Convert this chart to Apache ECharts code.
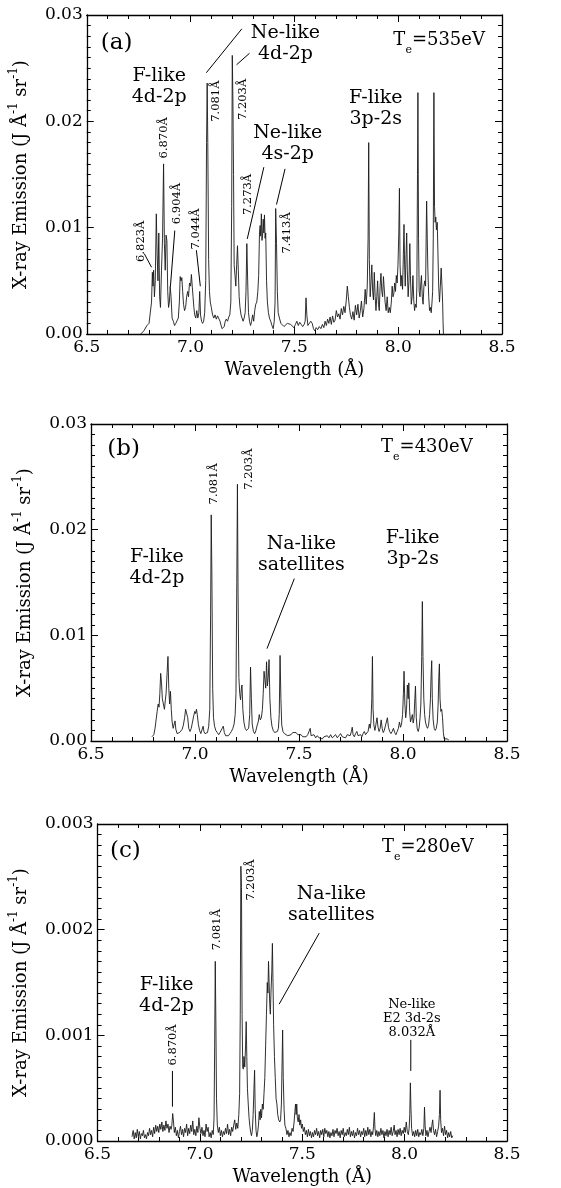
<!DOCTYPE html>
<html><head><meta charset="utf-8">
<script src="https://cdn.jsdelivr.net/npm/echarts@6/dist/echarts.min.js"></script>
<style>html,body{margin:0;padding:0;background:#fff;}#c{width:561px;height:1188px;}</style>
</head><body><div id="c"></div>
<script>
// ---- data: [wavelength (Å), emission (J Å^-1 sr^-1)] ----
const specA = [
[6.760,0],[6.775,0.0003],[6.790,0.0008],[6.800,0.001],[6.808,0.0011],[6.812,0.003],[6.816,0.0058],[6.819,0.0045],[6.822,0.006],[6.826,0.0035],[6.830,0.005],[6.835,0.0113],[6.839,0.0075],[6.843,0.005],[6.847,0.0095],[6.851,0.0035],[6.855,0.0025],[6.860,0.006],[6.865,0.009],[6.870,0.016],[6.874,0.0085],[6.878,0.006],[6.882,0.0093],[6.886,0.0088],[6.890,0.004],[6.894,0.0025],[6.898,0.003],[6.902,0.0045],[6.906,0.0035],[6.911,0.0015],[6.917,0.0012],[6.923,0.0008],[6.929,0.001],[6.935,0.0009],[6.941,0.0015],[6.946,0.003],[6.950,0.0054],[6.954,0.005],[6.958,0.0053],[6.962,0.004],[6.966,0.0028],[6.971,0.0022],[6.976,0.0025],[6.981,0.0035],[6.986,0.004],[6.990,0.0035],[6.995,0.0048],[7.000,0.0045],[7.004,0.0056],[7.008,0.0045],[7.012,0.0035],[7.016,0.0025],[7.020,0.0018],[7.025,0.0015],[7.030,0.0022],[7.035,0.0015],[7.040,0.002],[7.044,0.004],[7.048,0.0018],[7.053,0.0012],[7.058,0.001],[7.063,0.0012],[7.068,0.002],[7.073,0.005],[7.077,0.018],[7.080,0.0236],[7.083,0.018],[7.087,0.007],[7.091,0.004],[7.095,0.003],[7.100,0.0025],[7.106,0.0018],[7.112,0.0015],[7.118,0.0018],[7.124,0.0014],[7.130,0.0017],[7.136,0.0016],[7.142,0.0012],[7.147,0.0008],[7.152,0.0005],[7.157,0.0004],[7.162,0.0007],[7.167,0.0012],[7.172,0.0014],[7.178,0.0012],[7.184,0.0016],[7.189,0.0018],[7.194,0.003],[7.198,0.012],[7.201,0.0262],[7.204,0.022],[7.207,0.015],[7.210,0.0065],[7.214,0.0055],[7.218,0.0045],[7.222,0.0065],[7.226,0.0083],[7.230,0.006],[7.234,0.0035],[7.238,0.0025],[7.243,0.0018],[7.248,0.0015],[7.253,0.0012],[7.258,0.0015],[7.263,0.002],[7.267,0.004],[7.271,0.0085],[7.275,0.005],[7.279,0.002],[7.284,0.0012],[7.289,0.0008],[7.294,0.0012],[7.299,0.0018],[7.304,0.0012],[7.309,0.0022],[7.314,0.0028],[7.319,0.003],[7.324,0.004],[7.328,0.0055],[7.332,0.0095],[7.335,0.0102],[7.338,0.0092],[7.341,0.0113],[7.344,0.0088],[7.347,0.0093],[7.350,0.0108],[7.353,0.0095],[7.356,0.0112],[7.359,0.009],[7.362,0.0095],[7.366,0.005],[7.370,0.003],[7.375,0.002],[7.380,0.0015],[7.386,0.0012],[7.392,0.0008],[7.398,0.0005],[7.403,0.0012],[7.407,0.003],[7.410,0.0118],[7.414,0.0085],[7.418,0.004],[7.422,0.002],[7.428,0.0015],[7.435,0.001],[7.442,0.0009],[7.450,0.0007],[7.458,0.0008],[7.466,0.001],[7.474,0.0011],[7.482,0.0009],[7.490,0.001],[7.498,0.0006],[7.505,0.0009],[7.512,0.0012],[7.519,0.0008],[7.526,0.0011],[7.533,0.0009],[7.540,0.0007],[7.547,0.0009],[7.552,0.0012],[7.556,0.0034],[7.560,0.0018],[7.565,0.0008],[7.572,0.0007],[7.579,0.0012],[7.586,0.001],[7.592,0.0005],[7.598,0.0003],[7.605,0.0006],[7.612,0.0004],[7.620,0.0007],[7.628,0.0005],[7.635,0.0009],[7.642,0.0006],[7.648,0.0012],[7.654,0.0008],[7.660,0.0014],[7.666,0.001],[7.672,0.0016],[7.678,0.0009],[7.684,0.0017],[7.690,0.0011],[7.696,0.0013],[7.702,0.0022],[7.708,0.0016],[7.714,0.0019],[7.720,0.0014],[7.726,0.0024],[7.732,0.0018],[7.738,0.0026],[7.744,0.002],[7.750,0.0032],[7.755,0.0045],[7.760,0.0035],[7.765,0.0025],[7.770,0.0018],[7.776,0.0014],[7.782,0.0021],[7.788,0.0013],[7.794,0.0027],[7.800,0.0018],[7.806,0.0028],[7.812,0.0015],[7.818,0.0022],[7.823,0.0031],[7.829,0.0016],[7.835,0.0024],[7.841,0.0042],[7.846,0.0028],[7.851,0.0045],[7.855,0.009],[7.858,0.018],[7.861,0.007],[7.865,0.0035],[7.869,0.0048],[7.873,0.0065],[7.877,0.004],[7.881,0.0032],[7.885,0.0058],[7.889,0.0035],[7.893,0.0022],[7.897,0.0035],[7.901,0.005],[7.905,0.0028],[7.909,0.0022],[7.913,0.0045],[7.917,0.0057],[7.921,0.004],[7.925,0.0035],[7.929,0.0054],[7.933,0.0055],[7.937,0.003],[7.942,0.0022],[7.947,0.0035],[7.952,0.002],[7.957,0.0025],[7.962,0.002],[7.967,0.003],[7.971,0.0045],[7.975,0.0035],[7.979,0.0038],[7.983,0.0048],[7.987,0.004],[7.991,0.0055],[7.995,0.0048],[7.999,0.0065],[8.003,0.0095],[8.006,0.0137],[8.009,0.0065],[8.013,0.0045],[8.017,0.0055],[8.021,0.0042],[8.025,0.0075],[8.028,0.0103],[8.031,0.0065],[8.034,0.0045],[8.038,0.0075],[8.041,0.0095],[8.044,0.006],[8.048,0.0035],[8.052,0.005],[8.056,0.0085],[8.059,0.0055],[8.063,0.0028],[8.067,0.0035],[8.071,0.0055],[8.075,0.0032],[8.079,0.0022],[8.083,0.0028],[8.087,0.0025],[8.090,0.0045],[8.093,0.015],[8.095,0.0227],[8.098,0.009],[8.101,0.004],[8.105,0.0035],[8.109,0.0048],[8.112,0.0055],[8.116,0.0035],[8.120,0.0028],[8.124,0.0045],[8.128,0.005],[8.132,0.0045],[8.135,0.0095],[8.137,0.0125],[8.140,0.009],[8.143,0.006],[8.147,0.0035],[8.151,0.0022],[8.155,0.0025],[8.159,0.002],[8.163,0.003],[8.166,0.004],[8.169,0.009],[8.172,0.0227],[8.175,0.012],[8.178,0.0105],[8.181,0.011],[8.184,0.0098],[8.188,0.0105],[8.191,0.008],[8.195,0.0045],[8.199,0.003],[8.203,0.0045],[8.207,0.0062],[8.211,0.0045],[8.214,0.003],[8.216,0.0012],[8.218,0]
];
const specB = [
[6.793,0.0004],[6.797,0.0003],[6.802,0.0006],[6.808,0.0012],[6.813,0.002],[6.818,0.0028],[6.823,0.0035],[6.827,0.0032],[6.831,0.0045],[6.835,0.0064],[6.839,0.0055],[6.843,0.004],[6.848,0.0035],[6.853,0.003],[6.857,0.0038],[6.861,0.0045],[6.866,0.0065],[6.870,0.008],[6.874,0.005],[6.878,0.0035],[6.882,0.0047],[6.886,0.003],[6.890,0.0018],[6.895,0.0012],[6.900,0.0016],[6.904,0.0019],[6.908,0.0011],[6.914,0.0007],[6.920,0.0006],[6.926,0.0008],[6.932,0.0007],[6.938,0.0011],[6.944,0.0015],[6.950,0.0022],[6.955,0.003],[6.960,0.003],[6.965,0.0022],[6.970,0.0012],[6.976,0.0009],[6.982,0.0012],[6.988,0.0018],[6.994,0.0024],[6.999,0.0028],[7.003,0.0026],[7.007,0.003],[7.011,0.0025],[7.016,0.0016],[7.022,0.001],[7.028,0.0007],[7.034,0.0008],[7.039,0.0014],[7.043,0.0009],[7.048,0.0007],[7.054,0.0006],[7.060,0.0008],[7.066,0.0014],[7.071,0.003],[7.075,0.012],[7.078,0.0214],[7.081,0.016],[7.085,0.005],[7.089,0.0022],[7.094,0.0014],[7.100,0.001],[7.107,0.0008],[7.114,0.0006],[7.120,0.0008],[7.126,0.0009],[7.131,0.0012],[7.136,0.0014],[7.141,0.0008],[7.147,0.0005],[7.154,0.0006],[7.161,0.0005],[7.168,0.0007],[7.175,0.0009],[7.182,0.0012],[7.188,0.0016],[7.193,0.0025],[7.197,0.0045],[7.201,0.015],[7.204,0.0243],[7.207,0.014],[7.211,0.006],[7.215,0.0045],[7.219,0.0039],[7.223,0.005],[7.226,0.0053],[7.230,0.003],[7.235,0.0018],[7.241,0.0012],[7.247,0.001],[7.253,0.0009],[7.258,0.0012],[7.263,0.0025],[7.267,0.007],[7.271,0.004],[7.275,0.0016],[7.281,0.0009],[7.287,0.0007],[7.293,0.001],[7.299,0.0015],[7.304,0.0018],[7.309,0.0025],[7.314,0.002],[7.319,0.0022],[7.324,0.003],[7.328,0.0045],[7.332,0.0066],[7.336,0.0058],[7.340,0.005],[7.344,0.0075],[7.348,0.0052],[7.352,0.006],[7.356,0.0077],[7.360,0.004],[7.365,0.0022],[7.370,0.0014],[7.376,0.001],[7.383,0.0008],[7.390,0.0007],[7.396,0.0009],[7.401,0.0012],[7.405,0.0025],[7.409,0.0081],[7.413,0.004],[7.417,0.0015],[7.423,0.0009],[7.430,0.0007],[7.438,0.0006],[7.446,0.0005],[7.454,0.0004],[7.462,0.0006],[7.470,0.0008],[7.478,0.0007],[7.486,0.0008],[7.494,0.0006],[7.502,0.0005],[7.510,0.0006],[7.518,0.0004],[7.526,0.0005],[7.534,0.0004],[7.542,0.0006],[7.549,0.0005],[7.554,0.0012],[7.558,0.0005],[7.565,0.0004],[7.572,0.0006],[7.580,0.0003],[7.588,0.0005],[7.596,0.0003],[7.604,0.0004],[7.612,0.0002],[7.620,0.0004],[7.628,0.0003],[7.636,0.0005],[7.644,0.0003],[7.652,0.0006],[7.660,0.0003],[7.668,0.0004],[7.676,0.0006],[7.684,0.0003],[7.692,0.0005],[7.700,0.0007],[7.708,0.0004],[7.716,0.0005],[7.724,0.0003],[7.732,0.0006],[7.740,0.0007],[7.746,0.0005],[7.752,0.0009],[7.756,0.0013],[7.760,0.0006],[7.766,0.0004],[7.772,0.0007],[7.778,0.0009],[7.784,0.0005],[7.790,0.0004],[7.796,0.0006],[7.802,0.0004],[7.808,0.0007],[7.814,0.0009],[7.820,0.0006],[7.826,0.0005],[7.832,0.0009],[7.838,0.0016],[7.842,0.0012],[7.846,0.0018],[7.850,0.004],[7.853,0.008],[7.856,0.003],[7.860,0.0015],[7.865,0.001],[7.870,0.0016],[7.875,0.0022],[7.880,0.0013],[7.885,0.0009],[7.890,0.0012],[7.895,0.002],[7.900,0.0012],[7.905,0.0008],[7.910,0.001],[7.915,0.0014],[7.920,0.0018],[7.925,0.0022],[7.930,0.0013],[7.936,0.0009],[7.942,0.0007],[7.948,0.0009],[7.954,0.0012],[7.960,0.0008],[7.966,0.0006],[7.972,0.0009],[7.978,0.0012],[7.983,0.0018],[7.988,0.0013],[7.993,0.0016],[7.998,0.0025],[8.002,0.0045],[8.005,0.0066],[8.009,0.0035],[8.013,0.0022],[8.017,0.003],[8.021,0.0053],[8.025,0.004],[8.028,0.0055],[8.032,0.0028],[8.036,0.0018],[8.041,0.0022],[8.045,0.0025],[8.049,0.0017],[8.053,0.0022],[8.057,0.004],[8.060,0.0052],[8.064,0.0022],[8.068,0.0012],[8.073,0.0009],[8.078,0.0013],[8.082,0.0022],[8.086,0.0035],[8.090,0.008],[8.093,0.0132],[8.096,0.008],[8.100,0.004],[8.104,0.0025],[8.108,0.0018],[8.113,0.0014],[8.118,0.0012],[8.123,0.0015],[8.128,0.0025],[8.132,0.004],[8.135,0.0062],[8.138,0.0076],[8.141,0.004],[8.145,0.002],[8.150,0.0012],[8.155,0.001],[8.160,0.0012],[8.165,0.0018],[8.169,0.0035],[8.172,0.006],[8.175,0.0073],[8.178,0.004],[8.182,0.0028],[8.186,0.003],[8.190,0.0022],[8.194,0.0008],[8.198,0.0002],[8.205,0.0001],[8.212,0.0002],[8.220,0.0001]
];
const specC = [
[6.668,0.00004],[6.674,0.0001],[6.679,0.00002],[6.684,0.00008],[6.689,0.00003],[6.694,0.00011],[6.699,0.00004],[6.704,0.00009],[6.709,0.00002],[6.714,0.00007],[6.719,0.00005],[6.724,0.0001],[6.729,0.00003],[6.734,0.00006],[6.739,0.00002],[6.744,0.00008],[6.749,0.00005],[6.754,0.00012],[6.759,0.00006],[6.764,0.0001],[6.769,0.00004],[6.774,0.00013],[6.779,0.00007],[6.784,0.00015],[6.789,0.00009],[6.794,0.00014],[6.799,0.00008],[6.804,0.00016],[6.809,0.00011],[6.814,0.00018],[6.819,0.00009],[6.824,0.00015],[6.829,0.0001],[6.834,0.00019],[6.839,0.00012],[6.844,0.00016],[6.849,0.00008],[6.854,0.00014],[6.859,0.00011],[6.863,0.00015],[6.867,0.00026],[6.871,0.00018],[6.875,0.00008],[6.880,0.00013],[6.885,0.00005],[6.890,0.0001],[6.895,0.00003],[6.900,0.00009],[6.905,0.00014],[6.910,0.00006],[6.915,0.00011],[6.920,0.00004],[6.925,0.00012],[6.930,0.00008],[6.935,0.00016],[6.940,0.00005],[6.945,0.00012],[6.950,0.00007],[6.955,0.00015],[6.960,0.00009],[6.965,0.00019],[6.970,0.00006],[6.975,0.00011],[6.980,0.00005],[6.985,0.00014],[6.990,0.00008],[6.995,0.00022],[7.000,0.00012],[7.005,0.00007],[7.010,0.00013],[7.015,0.00005],[7.020,0.0001],[7.025,0.00004],[7.030,0.00016],[7.035,0.00009],[7.040,0.00013],[7.045,0.00004],[7.050,0.00008],[7.055,0.00003],[7.060,0.0001],[7.065,0.00006],[7.069,0.00022],[7.072,0.0009],[7.075,0.0017],[7.078,0.0011],[7.081,0.0004],[7.085,0.00015],[7.090,0.00008],[7.095,0.00013],[7.100,0.00005],[7.105,0.0001],[7.110,0.00004],[7.115,0.00009],[7.120,0.00006],[7.125,0.00012],[7.130,0.00007],[7.135,0.00016],[7.140,0.00006],[7.145,0.00011],[7.150,0.00005],[7.155,0.00013],[7.160,0.00009],[7.165,0.00015],[7.170,0.0002],[7.175,0.00011],[7.180,0.00017],[7.185,0.00012],[7.190,0.00025],[7.194,0.00045],[7.197,0.0012],[7.200,0.0026],[7.203,0.0024],[7.206,0.0012],[7.209,0.0007],[7.212,0.00068],[7.215,0.0008],[7.219,0.0007],[7.223,0.0009],[7.226,0.00113],[7.229,0.0008],[7.232,0.0005],[7.236,0.00035],[7.240,0.00022],[7.244,0.00014],[7.248,0.00008],[7.252,0.00005],[7.256,0.0001],[7.260,0.00025],[7.264,0.0005],[7.267,0.00067],[7.270,0.0003],[7.274,0.0001],[7.278,0.00004],[7.282,0.00008],[7.286,0.00015],[7.290,0.00028],[7.294,0.0002],[7.297,0.0003],[7.301,0.00022],[7.305,0.00035],[7.309,0.0003],[7.313,0.00045],[7.317,0.0006],[7.321,0.0009],[7.325,0.0012],[7.329,0.0015],[7.332,0.0014],[7.335,0.0017],[7.338,0.0015],[7.341,0.0013],[7.344,0.0012],[7.347,0.0014],[7.351,0.0016],[7.354,0.00187],[7.357,0.0015],[7.360,0.0011],[7.364,0.0008],[7.368,0.0006],[7.372,0.0004],[7.376,0.00035],[7.380,0.00025],[7.385,0.0002],[7.390,0.00018],[7.394,0.0002],[7.398,0.00035],[7.401,0.0007],[7.404,0.00105],[7.407,0.0006],[7.411,0.0003],[7.415,0.00015],[7.420,0.00012],[7.425,0.00006],[7.430,0.0001],[7.435,0.00004],[7.440,0.00008],[7.445,0.00005],[7.450,0.00012],[7.455,0.00009],[7.460,0.00018],[7.464,0.00028],[7.467,0.00035],[7.470,0.00025],[7.473,0.00035],[7.476,0.00022],[7.480,0.00018],[7.484,0.00025],[7.488,0.00015],[7.492,0.0002],[7.496,0.00012],[7.500,0.00016],[7.505,0.00009],[7.510,0.00013],[7.515,0.00006],[7.520,0.0001],[7.525,0.00004],[7.530,0.00011],[7.535,0.00005],[7.540,0.00009],[7.545,0.00003],[7.550,0.00008],[7.555,0.00004],[7.560,0.0001],[7.565,0.00006],[7.570,0.00012],[7.575,0.00005],[7.580,0.00009],[7.585,0.00003],[7.590,0.0001],[7.595,0.00006],[7.600,0.00011],[7.605,0.00004],[7.610,0.00012],[7.615,0.00007],[7.620,0.0001],[7.625,0.00004],[7.630,0.00009],[7.635,0.00003],[7.640,0.00008],[7.645,0.00005],[7.650,0.00011],[7.655,0.00004],[7.660,0.0001],[7.665,0.00007],[7.670,0.00012],[7.675,0.00005],[7.680,0.00009],[7.685,0.00003],[7.690,0.0001],[7.695,0.00006],[7.700,0.00012],[7.705,0.00004],[7.710,0.00008],[7.715,0.00005],[7.720,0.00011],[7.725,0.00006],[7.730,0.00013],[7.735,0.00004],[7.740,0.00009],[7.745,0.00005],[7.750,0.0001],[7.755,0.00003],[7.760,0.00008],[7.765,0.00005],[7.770,0.00012],[7.775,0.00006],[7.780,0.0001],[7.785,0.00004],[7.790,0.00009],[7.795,0.00006],[7.800,0.00012],[7.805,0.00004],[7.810,0.0001],[7.815,0.00005],[7.820,0.00013],[7.825,0.00006],[7.830,0.00011],[7.835,0.00004],[7.840,0.00009],[7.844,0.00006],[7.848,0.00014],[7.852,0.00027],[7.855,0.00012],[7.859,0.00005],[7.864,0.0001],[7.869,0.00004],[7.874,0.00009],[7.879,0.00005],[7.884,0.00012],[7.889,0.00006],[7.894,0.0001],[7.899,0.00003],[7.904,0.00009],[7.909,0.00005],[7.914,0.00011],[7.919,0.00004],[7.924,0.0001],[7.929,0.00006],[7.934,0.00013],[7.939,0.00005],[7.944,0.00009],[7.949,0.00015],[7.953,0.00006],[7.958,0.0001],[7.963,0.00004],[7.968,0.00011],[7.973,0.00006],[7.978,0.00012],[7.983,0.00005],[7.988,0.0001],[7.993,0.00007],[7.998,0.00013],[8.003,0.00008],[8.008,0.00018],[8.013,0.00009],[8.018,0.00006],[8.022,0.00012],[8.025,0.00025],[8.028,0.00055],[8.031,0.0003],[8.034,0.00012],[8.039,0.00005],[8.044,0.00009],[8.049,0.00004],[8.054,0.0001],[8.059,0.00005],[8.064,0.00011],[8.069,0.00004],[8.074,0.00008],[8.079,0.00006],[8.084,0.00011],[8.089,0.00005],[8.094,0.00012],[8.097,0.00032],[8.100,0.00015],[8.104,0.00005],[8.109,0.0001],[8.114,0.00004],[8.119,0.00009],[8.124,0.00013],[8.129,0.00008],[8.134,0.00016],[8.137,0.0002],[8.141,0.0001],[8.146,0.00006],[8.151,0.00011],[8.156,0.00004],[8.161,0.00009],[8.166,0.00014],[8.170,0.00025],[8.173,0.00048],[8.176,0.0002],[8.180,0.00008],[8.185,0.00012],[8.190,0.00005],[8.195,0.00014],[8.200,0.00006],[8.205,0.0001],[8.210,0.00003],[8.215,0.00008],[8.220,0.00004],[8.225,0.00009],[8.230,0.00003],[8.235,0.00005]
];
const xRange = [6.5, 8.5];          // wavelength axis
const yMaxes = [0.03, 0.03, 0.003]; // emission axis maxima
const yDecimals = [2, 2, 3];

// ---- annotations (data coordinates) ----
const annText = [
 [ // (a)
  {t:'{b|(a)}', at:[6.644,0.0274], big:true},
  {t:'{b|T}{s|e}{b|=535eV}', at:[8.418,0.0273], te:true},
  {t:'F-like\n4d-2p', at:[6.849,0.0233]},
  {t:'Ne-like\n4d-2p', at:[7.457,0.0273]},
  {t:'Ne-like\n4s-2p', at:[7.468,0.01795]},
  {t:'F-like\n3p-2s', at:[7.892,0.0212]},
  {t:'6.823Å', at:[6.761,0.00872], rot:true},
  {t:'6.870Å', at:[6.871,0.01845], rot:true},
  {t:'6.904Å', at:[6.937,0.01227], rot:true},
  {t:'7.044Å', at:[7.028,0.00988], rot:true},
  {t:'7.081Å', at:[7.124,0.0219], rot:true},
  {t:'7.203Å', at:[7.252,0.02206], rot:true},
  {t:'7.273Å', at:[7.276,0.01312], rot:true},
  {t:'7.413Å', at:[7.463,0.00951], rot:true}
 ],
 [ // (b)
  {t:'{b|(b)}', at:[6.657,0.02767], big:true},
  {t:'{b|T}{s|e}{b|=430eV}', at:[8.335,0.0275], te:true},
  {t:'7.081Å', at:[7.0897,0.02434], rot:true},
  {t:'7.203Å', at:[7.258,0.02573], rot:true},
  {t:'F-like\n4d-2p', at:[6.817,0.01644]},
  {t:'Na-like\nsatellites', at:[7.511,0.01764]},
  {t:'F-like\n3p-2s', at:[8.0465,0.01822]}
 ],
 [ // (c)
  {t:'{b|(c)}', at:[6.636,0.00274], big:true},
  {t:'{b|T}{s|e}{b|=280eV}', at:[8.337,0.00275], te:true},
  {t:'7.081Å', at:[7.0854,0.0020], rot:true},
  {t:'7.203Å', at:[7.249,0.00247], rot:true},
  {t:'F-like\n4d-2p', at:[6.837,0.001377]},
  {t:'6.870Å', at:[6.8705,0.000909], rot:true},
  {t:'Na-like\nsatellites', at:[7.642,0.002242]},
  {t:'Ne-like\nE2 3d-2s\n8.032Å', at:[8.035,0.001159], small:true}
 ]
];
const annLines = [
 [[[7.076,0.02457],[7.247,0.0287]], [[7.2216,0.02532],[7.284,0.0264]],
  [[7.273,0.00894],[7.353,0.01569]], [[7.414,0.01218],[7.455,0.01553]],
  [[6.777,0.00756],[6.812,0.00628]], [[6.924,0.00973],[6.903,0.00449]],
  [[7.028,0.00788],[7.047,0.00449]]],
 [[[7.4776,0.01537],[7.346,0.00874]]],
 [[[6.8657,0.000663],[6.8657,0.000325]], [[7.5826,0.001967],[7.387,0.001295]],
  [[8.030,0.000957],[8.030,0.000663]]]
];

const FONT = 'DejaVu Serif';
const grids = [
  {left:86, top:15, width:416, height:319},
  {left:91, top:424, width:416, height:317},
  {left:92, top:824, width:415, height:317}
];
const chart = echarts.init(document.getElementById('c'), null, {renderer:'canvas'});

const axisLineStyle = {color:'#000', width:1.3};
function xAxisDef(i, top) {
  return {
    type:'value', gridIndex:i, position: top ? 'top' : 'bottom',
    min:xRange[0], max:xRange[1], interval:0.5,
    axisLine:{show:true, onZero:false, lineStyle:axisLineStyle},
    axisTick:{show:true, inside:true, length:7, lineStyle:{color:'#000', width:1}},
    minorTick:{show:true, splitNumber:5, length:4, lineStyle:{color:'#000', width:1}},
    splitLine:{show:false}, minorSplitLine:{show:false},
    axisLabel:{show:!top, color:'#000', fontFamily:FONT, fontSize:17, margin:5,
      hideOverlap:false, showMinLabel:true, showMaxLabel:true,
      formatter:v=>v.toFixed(1)},
    name: top ? '' : 'Wavelength (Å)', nameLocation:'middle', nameGap:27,
    nameTextStyle:{color:'#000', fontFamily:FONT, fontSize:18}
  };
}
function yAxisDef(i, right) {
  return {
    type:'value', gridIndex:i, position: right ? 'right' : 'left',
    min:0, max:yMaxes[i], interval:yMaxes[i]/3,
    axisLine:{show:true, onZero:false, lineStyle:axisLineStyle},
    axisTick:{show:true, inside:true, length:7, lineStyle:{color:'#000', width:1}},
    minorTick:{show:true, splitNumber:10, length:4, lineStyle:{color:'#000', width:1}},
    splitLine:{show:false}, minorSplitLine:{show:false},
    axisLabel:{show:!right, color:'#000', fontFamily:FONT, fontSize:17, margin:4,
      hideOverlap:false, showMinLabel:true, showMaxLabel:true,
      formatter:v=>v.toFixed(yDecimals[i])},
    name: right ? '' : 'X-ray Emission (J Å{s|-1} sr{s|-1})',
    nameLocation:'middle', nameGap:48, nameRotate:90,
    nameTextStyle:{color:'#000', fontFamily:FONT, fontSize:18, lineHeight:26,
      rich:{s:{fontFamily:FONT, fontSize:12, color:'#000', verticalAlign:'top', lineHeight:14}}}
  };
}
const specs = [specA, specB, specC];
const option = {
  backgroundColor:'#fff', animation:false,
  grid: grids.map(g => Object.assign({containLabel:false}, g)),
  xAxis: [0,1,2].map(i=>xAxisDef(i,false)).concat([0,1,2].map(i=>xAxisDef(i,true))),
  yAxis: [0,1,2].map(i=>yAxisDef(i,false)).concat([0,1,2].map(i=>yAxisDef(i,true))),
  series: specs.map((d,i)=>({
    type:'line', xAxisIndex:i, yAxisIndex:i, data:d, showSymbol:false, symbol:'none',
    lineStyle:{color:'#1a1a1a', width:0.9}, silent:true, clip:true
  }))
};
chart.setOption(option);

// build annotation graphics from data coordinates
const gfx = [];
annText.forEach((list, p) => {
  list.forEach(a => {
    const [x, y] = chart.convertToPixel({xAxisIndex:p, yAxisIndex:p}, a.at);
    const st = {text:a.t, fill:'#000', fontFamily:FONT, align:'center', verticalAlign:'middle',
                textAlign:'center', textVerticalAlign:'middle'};
    if (a.rot) { st.fontSize = 11.5; }
    else if (a.small) { st.fontSize = 13; st.lineHeight = 14; }
    else if (a.big) { st.rich = {b:{fontFamily:FONT, fontSize:23, fill:'#000', color:'#000'}}; }
    else if (a.te) {
      st.align = 'right'; st.textAlign = 'right';
      st.rich = {b:{fontFamily:FONT, fontSize:18, color:'#000', lineHeight:24, verticalAlign:'top'},
                 s:{fontFamily:FONT, fontSize:11, color:'#000', lineHeight:12, verticalAlign:'bottom'}};
    }
    else { st.fontSize = 19; st.lineHeight = 21; }
    gfx.push({type:'text', x:x, y:y, rotation: a.rot ? Math.PI/2 : 0, silent:true, style:st});
  });
});
annLines.forEach((list, p) => {
  list.forEach(l => {
    const a = chart.convertToPixel({xAxisIndex:p, yAxisIndex:p}, l[0]);
    const b = chart.convertToPixel({xAxisIndex:p, yAxisIndex:p}, l[1]);
    gfx.push({type:'line', silent:true, shape:{x1:a[0], y1:a[1], x2:b[0], y2:b[1]},
              style:{stroke:'#000', lineWidth:1}});
  });
});
chart.setOption({graphic: gfx});
</script>
</body></html>
